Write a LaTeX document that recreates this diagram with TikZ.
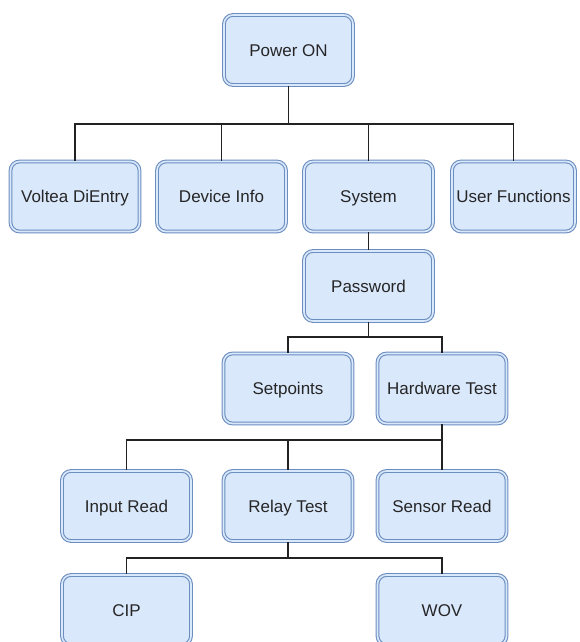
\documentclass[tikz,border=0pt]{standalone}
\usepackage{fontspec}
\setmainfont{Liberation Sans}
\definecolor{boxfill}{HTML}{DAE8FC}
\definecolor{boxline}{HTML}{6C8EBF}
\definecolor{txt}{HTML}{262626}
\definecolor{wire}{HTML}{222222}
\tikzset{
  box/.style={draw=boxline, fill=boxfill, double=boxfill, double distance=1.6pt, line width=1.1pt,
    rounded corners=9pt, minimum width=129pt, minimum height=70pt, inner sep=0pt,
    text height=15.5pt, text depth=3pt,
    text=txt, font=\fontsize{17}{20}\selectfont},
  link/.style={draw=wire, line width=1.4pt}
}
\begin{document}
\begin{tikzpicture}[x=1pt,y=-1pt]
\useasboundingbox (0,0) rectangle (579,642);
\node[box] (power) at (288.5,50) {Power ON};
\node[box] (voltea) at (75,196.5) {Voltea DiEntry};
\node[box] (device) at (221.5,196.5) {Device Info};
\node[box] (system) at (368.5,196.5) {System};
\node[box, minimum width=123pt] (userf) at (513.5,196.5) {User Functions};
\node[box] (password) at (368.5,286) {Password};
\node[box] (setpoints) at (288,388.5) {Setpoints};
\node[box] (hardware) at (442,388.5) {Hardware Test};
\node[box] (input) at (126.5,506) {Input Read};
\node[box] (relay) at (288,506) {Relay Test};
\node[box] (sensor) at (442,506) {Sensor Read};
\node[box] (cip) at (126.5,610) {CIP};
\node[box] (wov) at (442,610) {WOV};

\coordinate (b1) at (288.5,124);
\coordinate (b2) at (368.5,337);
\coordinate (b3) at (442,440);
\coordinate (b4) at (288,558);

\draw[link] (power.south) -- (b1);
\draw[link] (b1) -| (voltea.north);
\draw[link] (b1) -| (device.north);
\draw[link] (b1) -| (system.north);
\draw[link] (b1) -| (userf.north);
\draw[link] (system.south) -- (password.north);
\draw[link] (password.south) -- (b2);
\draw[link] (b2) -| (setpoints.north);
\draw[link] (b2) -| (hardware.north);
\draw[link] (hardware.south) -- (b3);
\draw[link] (b3) -| (input.north);
\draw[link] (b3) -| (relay.north);
\draw[link] (b3) -| (sensor.north);
\draw[link] (relay.south) -- (b4);
\draw[link] (b4) -| (cip.north);
\draw[link] (b4) -| (wov.north);
\end{tikzpicture}
\end{document}
